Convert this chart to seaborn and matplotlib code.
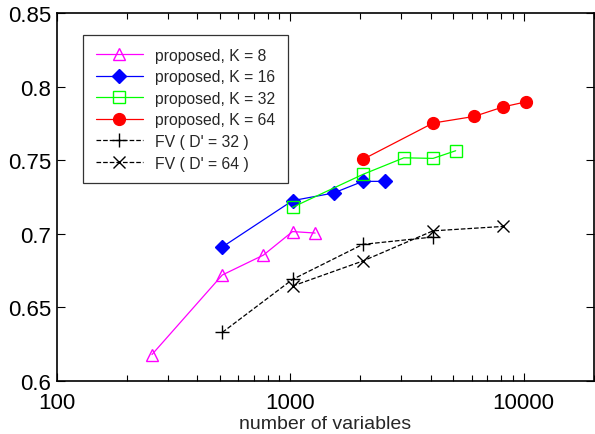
import numpy as np
import pandas as pd
import matplotlib
matplotlib.use('Agg')
import matplotlib.pyplot as plt
import seaborn as sns
from matplotlib.ticker import FixedLocator, FormatStrFormatter, LogLocator, NullFormatter

sns.set_style('ticks')
plt.rcParams['font.family'] = ['Liberation Sans', 'DejaVu Sans']

# data
k8_x = [256, 512, 768, 1024, 1280]
k8_y = [0.618, 0.672, 0.6855, 0.7015, 0.7005]
k16_x = [512, 1024, 1536, 2048, 2560]
k16_y = [0.691, 0.7225, 0.7277, 0.7356, 0.7356]
k32_x = [1024, 2048, 3072, 4096, 5120]
k32_y = [0.718, 0.7403, 0.7516, 0.7512, 0.7564]
k64_x = [2048, 4096, 6144, 8192, 10240]
k64_y = [0.7505, 0.7752, 0.7797, 0.7862, 0.7896]
fv32_x = [512, 1024, 2048, 4096]
fv32_y = [0.633, 0.669, 0.6928, 0.6978]
fv64_x = [1024, 2048, 4096, 8192]
fv64_y = [0.6645, 0.6815, 0.702, 0.705]

series = [
    ('proposed, K = 8', k8_x, k8_y, '#ff00ff', '^', 'none', '-'),
    ('proposed, K = 16', k16_x, k16_y, '#0000ff', 'D', '#0000ff', '-'),
    ('proposed, K = 32', k32_x, k32_y, '#00ff00', 's', 'none', '-'),
    ('proposed, K = 64', k64_x, k64_y, '#ff0000', 'o', '#ff0000', '-'),
    ("FV ( D' = 32 )", fv32_x, fv32_y, 'black', '+', 'black', '--'),
    ("FV ( D' = 64 )", fv64_x, fv64_y, 'black', 'x', 'black', '--'),
]

fig = plt.figure(figsize=(5.95, 4.35), dpi=100)
ax = fig.add_axes([0.0953, 0.1218, 0.9027, 0.8462])

sizes = {'^': 9, 'D': 7, 's': 9, 'o': 8.5, '+': 10, 'x': 9}
for label, xs, ys, col, mk, fc, ls in series:
    sns.lineplot(x=xs, y=ys, ax=ax, color=col, marker=mk, linestyle=ls,
                 markersize=sizes[mk], markerfacecolor=fc, markeredgecolor=col,
                 markeredgewidth=1.0, linewidth=0.9, label=label, errorbar=None,
                 sort=False)

ax.set_xscale('log')
ax.set_xlim(100, 20000)
ax.set_ylim(0.6, 0.85)
ax.xaxis.set_major_locator(FixedLocator([100, 1000, 10000]))
ax.xaxis.set_major_formatter(FormatStrFormatter('%d'))
ax.xaxis.set_minor_locator(LogLocator(base=10, subs=np.arange(2, 10)))
ax.xaxis.set_minor_formatter(NullFormatter())
ax.set_yticks([0.6, 0.65, 0.7, 0.75, 0.8, 0.85])
ax.yaxis.set_major_formatter(FormatStrFormatter('%g'))
ax.tick_params(which='both', direction='in', top=True, right=True,
               labelsize=16, width=0.8, colors='black')
ax.tick_params(which='major', length=6)
ax.tick_params(which='minor', length=4)
ax.tick_params(axis='x', pad=8)
ax.tick_params(axis='y', pad=4)
for sp in ax.spines.values():
    sp.set_linewidth(1.2)
    sp.set_color('black')

ax.set_xlabel('number of variables', fontsize=14, labelpad=1)
ax.set_ylabel('')

leg = ax.legend(loc='upper left', bbox_to_anchor=(0.049, 0.94), borderaxespad=0,
                fontsize=11.3, frameon=True, fancybox=False, handlelength=3.0,
                labelspacing=0.42, borderpad=0.8, handletextpad=0.8)
leg.get_frame().set_edgecolor('black')
leg.get_frame().set_linewidth(0.9)

fig.savefig('out.png', dpi=100)
